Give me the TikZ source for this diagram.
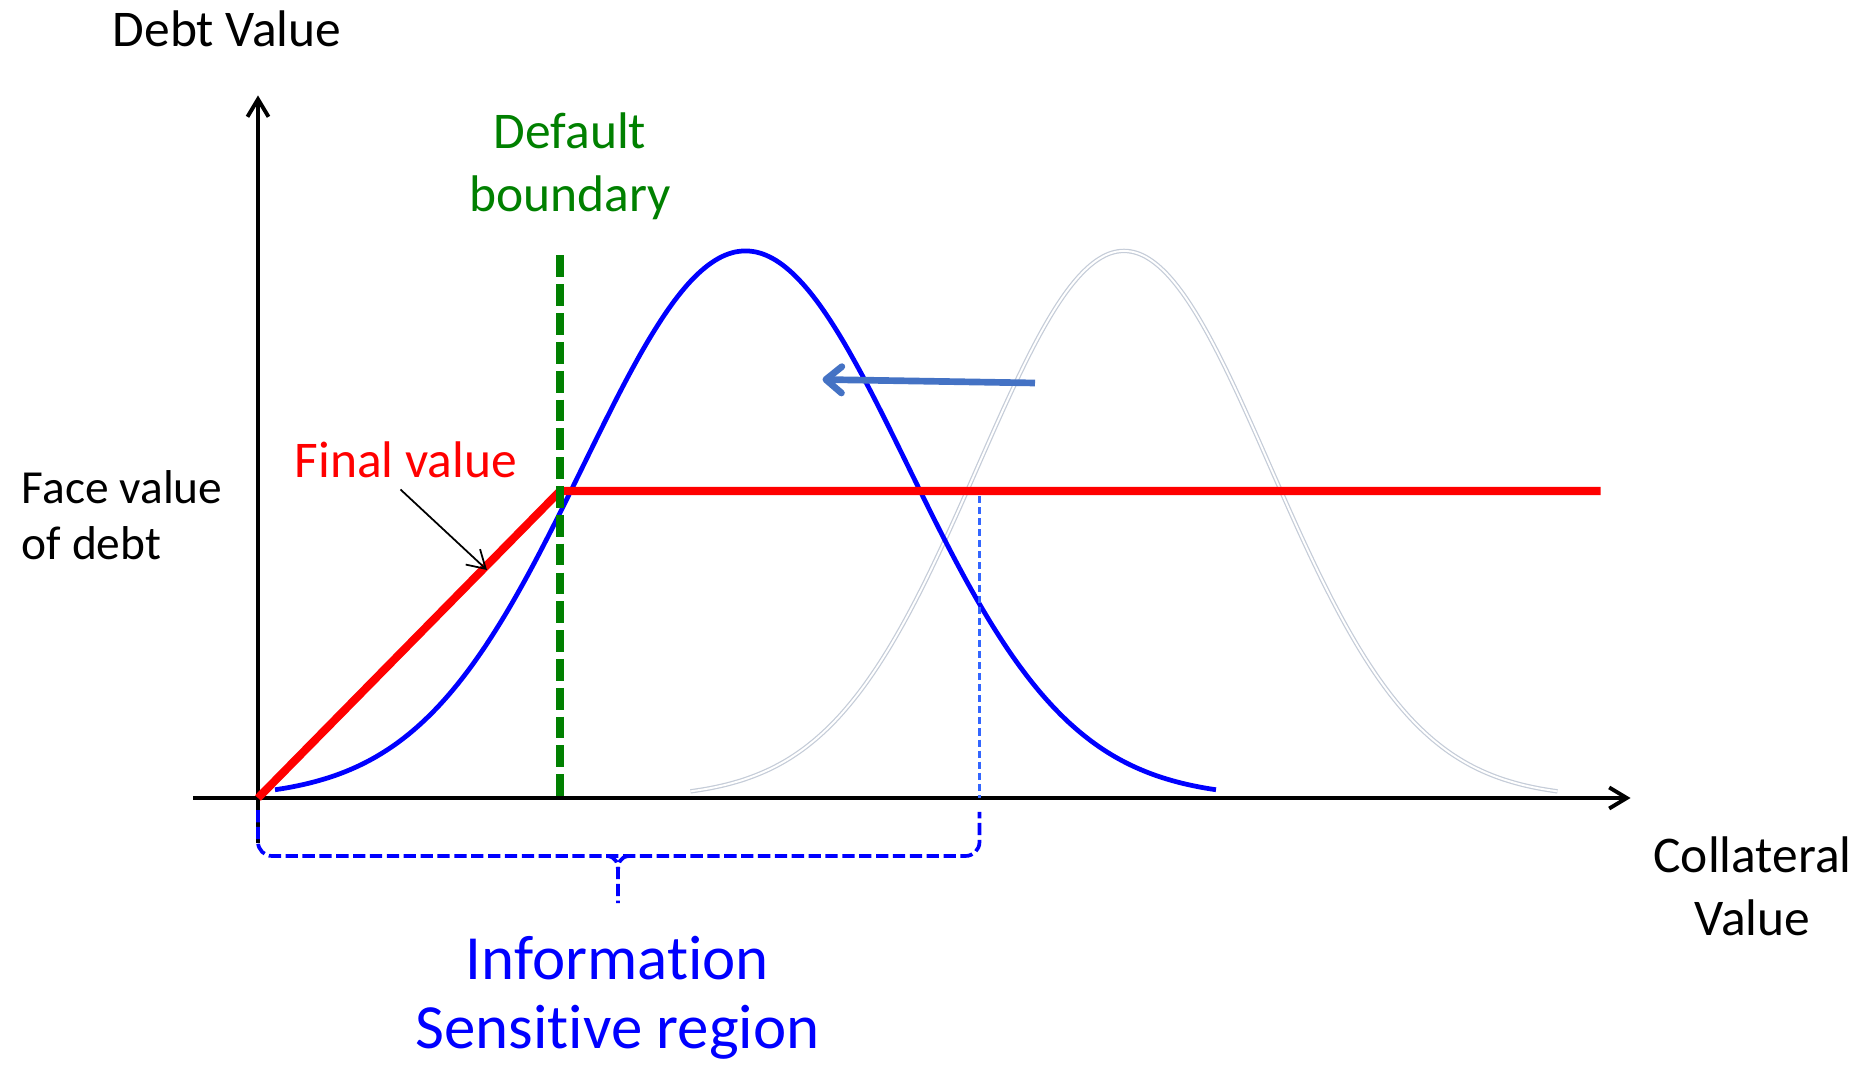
\documentclass[tikz,border=0pt]{standalone}
\usepackage{fontspec}
\setmainfont[Ligatures=NoCommon]{Carlito}
\usepackage{tikz}
\usetikzlibrary{arrows.meta, positioning, calc}
\definecolor{defaultGreen}{HTML}{008000}
\definecolor{curveBlue}{HTML}{0000FF}
\definecolor{shiftBlue}{HTML}{4472C4}
\definecolor{cutBlue}{HTML}{3366FF}
\definecolor{ghostGray}{HTML}{C5CCD8}

\begin{document}
\begin{tikzpicture}[>={Straight Barb[length=10pt,width=12pt]},
    lbl/.style={font=\fontsize{29.3pt}{35.7pt}\selectfont, align=center, inner sep=0pt},
    infoBrace/.style={curveBlue, line width=2.1pt, dash pattern=on 7pt off 2.6pt}]
        \useasboundingbox (-5.16,-5.34) rectangle (32.3,15.96);

        % Axes
        \coordinate (O) at (0,0);
        \coordinate (yBot) at (0,-0.9);
        \coordinate (yTop) at (0,14.05);
        \coordinate (xLeft) at (-1.29,0);
        \coordinate (xRight) at (27.45,0);
        \draw[->, line width=2.2pt] (yBot) -- (yTop);
        \draw[->, line width=2.2pt] (xLeft) -- (xRight);

        % Shifted (old) distribution
        \draw[ghostGray, line width=0.7pt, double=white, double distance=1.1pt, domain=8.65:25.99, samples=140, smooth]
            plot (\x, {10.94*exp(-((\x-17.32)^2)/(2*2.92^2))});

        % Current distribution
        \draw[curveBlue, line width=2.7pt, domain=0.34:19.16, samples=140, smooth]
            plot (\x, {10.94*exp(-((\x-9.75)^2)/(2*3.25^2))});

        % Final value of debt
        \coordinate (kink) at (6.04,6.14);
        \coordinate (redEnd) at (26.85,6.14);
        \draw[red, line width=4.6pt] (O) -- (kink) -- (redEnd);

        % Default boundary
        \coordinate (gTop) at (6.04,10.85);
        \coordinate (gBot) at (6.04,0);
        \draw[defaultGreen, line width=4pt, dash pattern=on 12.4pt off 4pt] (gTop) -- (gBot);

        % Cut-off of the sensitive region
        \coordinate (cutTop) at (14.43,6.04);
        \coordinate (cutBot) at (14.43,0);
        \draw[cutBlue, line width=1.4pt, dash pattern=on 4pt off 2.3pt] (cutTop) -- (cutBot);

        % Shift arrow
        \coordinate (shiftFrom) at (15.54,8.30);
        \coordinate (shiftTo) at (11.29,8.37);
        \draw[shiftBlue, line width=3.8pt, -{Straight Barb[length=9pt,width=15pt,round]}] (shiftFrom) -- (shiftTo);

        % Brace under the axis
        \coordinate (brL) at (0,-0.24);
        \coordinate (brR) at (14.43,-0.28);
        \coordinate (brTip) at (7.2,-2.1);
        \draw[infoBrace, rounded corners=8pt] (brL) -- (0,-1.16) -- (14.43,-1.16) -- (brR);
        \draw[infoBrace] (6.98,-1.16) .. controls (7.16,-1.18) and (7.2,-1.28) .. (7.2,-1.5) -- (brTip);
        \draw[infoBrace] (7.42,-1.16) .. controls (7.24,-1.18) and (7.2,-1.28) .. (7.2,-1.5);

        % Labels
        \node[lbl] (debtLbl) at (-0.62,15.39) {Debt Value};
        \node[lbl, text=defaultGreen] (defLbl) at (6.24,12.64) {Default\\boundary};
        \node[lbl, text=red] (finalLbl) at (2.96,6.76) {Final value};
        \node[lbl, font=\fontsize{27pt}{31.9pt}\selectfont, align=left, anchor=west] (faceLbl) at (-4.73,5.65) {Face value\\of debt};
        \node[lbl, font=\fontsize{35.8pt}{39.4pt}\selectfont, text=curveBlue] (infoLbl) at (7.19,-4.0) {Information\\Sensitive region};
        \node[lbl] (collLbl) at (29.89,-1.77) {Collateral\\Value};

        % Pointer to the final value
        \coordinate (finalFrom) at (2.85,6.17);
        \coordinate (finalTo) at (4.58,4.56);
        \draw[->, line width=1pt] (finalFrom) -- (finalTo);
    \end{tikzpicture}
\end{document}
